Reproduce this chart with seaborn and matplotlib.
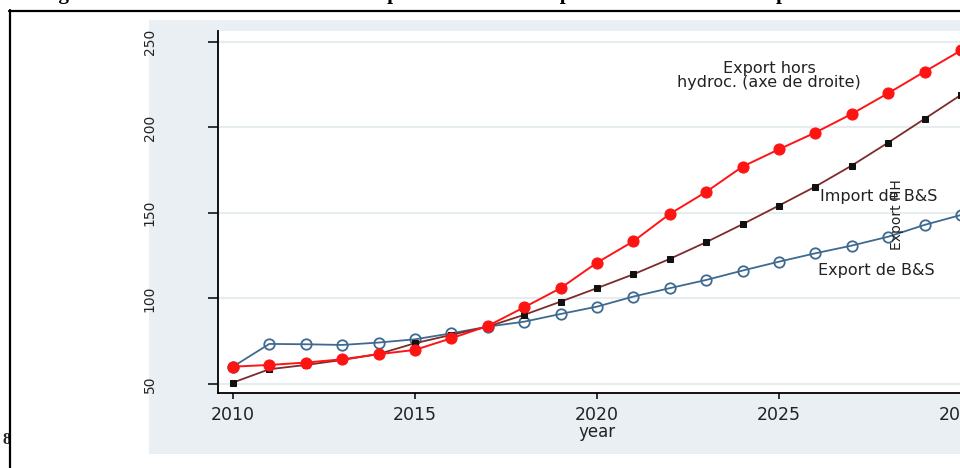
import numpy as np
import pandas as pd
import matplotlib
matplotlib.use("Agg")
import matplotlib.pyplot as plt
from matplotlib.patches import Rectangle
from matplotlib.lines import Line2D
import seaborn as sns

# ---- data -------------------------------------------------------------
years = list(range(2010, 2031))

export_hh = [60.1, 61.1, 62.5, 64.4, 67.4, 69.9, 76.7, 83.9, 94.8, 106.0,
             120.9, 133.4, 149.4, 162.3, 177.1, 187.2, 197.0, 207.9, 220.0,
             232.6, 245.0]
import_bs = [50.8, 58.6, 61.1, 64.0, 67.5, 73.8, 78.7, 83.5, 90.4, 98.1,
             106.0, 114.1, 123.1, 132.9, 143.4, 154.3, 165.4, 177.7, 191.1,
             205.0, 219.0]
export_bs = [60.1, 73.4, 73.2, 72.8, 74.2, 76.1, 79.6, 83.5, 86.4, 90.9,
             95.2, 101.1, 106.0, 110.8, 116.3, 121.5, 126.4, 130.9, 136.1,
             143.0, 148.8]

x_ticks = [2010, 2015, 2020, 2025, 2030]
y_ticks = [50, 100, 150, 200, 250]

series_names = ["Export de B&S", "Import de B&S", "Export hors hydroc."]

df = pd.DataFrame({
    "year": years * 3,
    "value": export_bs + import_bs + export_hh,
    "serie": sum([[n] * len(years) for n in series_names], []),
})

# ---- figure -----------------------------------------------------------
sns.set_style("white")
plt.rcParams["font.family"] = ["DejaVu Sans"]

W, H = 960, 468
fig = plt.figure(figsize=(W / 100, H / 100), dpi=100)
fig.patch.set_facecolor("white")


def fx(px):
    return px / W


def fy(py):
    return 1 - py / H


# graph region (light bluish gray panel), kept behind the axes
fig.patches.append(Rectangle((fx(149), fy(454)), fx(W - 149) + 0.02, (454 - 20) / H,
                             transform=fig.transFigure, facecolor="#e9eff2",
                             edgecolor="none", zorder=-5))
# page frame
fig.add_artist(Line2D([fx(9.5), fx(9.5)], [fy(10), fy(470)], color="black",
                      lw=1.6, transform=fig.transFigure, zorder=5))
fig.add_artist(Line2D([fx(9), fx(965)], [fy(10.5), fy(10.5)], color="black",
                      lw=1.6, transform=fig.transFigure, zorder=5))

# document title running above the frame
title_kw = dict(family="Liberation Serif", weight="bold", fontsize=15,
                va="baseline", ha="left", color="black")
for word, left in [("Figure", 41), ("importations", 365),
                   ("exportations", 540), ("prévues", 776)]:
    fig.text(fx(left), 1 + 0.5 / H, word, **title_kw)
fig.text(fx(11), fy(440), "8", family="Liberation Serif", weight="bold",
         fontsize=12, ha="right", va="center")

# plot region
ax_left, ax_bottom, ax_top = 218, 393, 31
x0 = 2009.59
px_per_year = 36.4
ax_w_px = 780
ax = fig.add_axes([fx(ax_left), fy(ax_bottom), ax_w_px / W, (ax_bottom - ax_top) / H])
ax.set_facecolor("white")

styles = {
    "Export de B&S": dict(color="#3f6a8f", marker="o", markersize=7.5,
                          markerfacecolor="none", markeredgecolor="#3f6a8f",
                          markeredgewidth=1.3, linewidth=1.3),
    "Import de B&S": dict(color="#7d2b2b", marker="s", markersize=5,
                          markerfacecolor="#111111", markeredgecolor="#111111",
                          linewidth=1.3),
    "Export hors hydroc.": dict(color="#ff1414", marker="o", markersize=8,
                                markerfacecolor="#ff1414", markeredgecolor="#ff1414",
                                linewidth=1.4),
}
for name in series_names:
    sub = df[df["serie"] == name]
    sns.lineplot(data=sub, x="year", y="value", ax=ax, legend=False, **styles[name])

ax.set_xlim(x0, x0 + ax_w_px / px_per_year)
ax.set_ylim(44.7, 256.4)
ax.set_xticks(x_ticks)
ax.set_xticklabels([str(t) for t in x_ticks])
ax.set_yticks(y_ticks)
ax.set_yticklabels([str(t) for t in y_ticks])

ax.yaxis.grid(True, color="#e6edf0", linewidth=1.5)
ax.xaxis.grid(False)
ax.set_axisbelow(True)

for side in ["top", "right"]:
    ax.spines[side].set_visible(False)
for side in ["left", "bottom"]:
    ax.spines[side].set_color("black")
    ax.spines[side].set_linewidth(1.3)

ax.tick_params(axis="x", direction="out", length=4.3, width=1.1, pad=5.0,
               labelsize=12.5, colors="black", labelcolor="#222222", bottom=True)
ax.tick_params(axis="y", direction="out", length=7.2, width=1.1, pad=37,
               labelsize=10, colors="black", labelcolor="#222222", left=True,
               labelrotation=90)
for lab in ax.get_yticklabels():
    lab.set_va("center")

ax.set_ylabel("")
ax.set_xlabel("year", fontsize=12, color="#222222")
ax.xaxis.set_label_coords((2020 - x0) * px_per_year / ax_w_px,
                          (ax_bottom - 423) / (ax_bottom - ax_top))

# series labels
lab_kw = dict(fontsize=11.5, color="#222222", va="center")
fig.text(fx(769), fy(68), "Export hors", ha="center", **lab_kw)
fig.text(fx(769), fy(83), "hydroc. (axe de droite)", ha="center", **lab_kw)
fig.text(fx(820), fy(196), "Import de B&S", ha="left", **lab_kw)
fig.text(fx(818), fy(271), "Export de B&S", ha="left", **lab_kw)
fig.text(fx(897), fy(215), "Export HH", ha="center", va="center",
         rotation=90, fontsize=10, color="#222222")

fig.savefig("out.png", dpi=100)
